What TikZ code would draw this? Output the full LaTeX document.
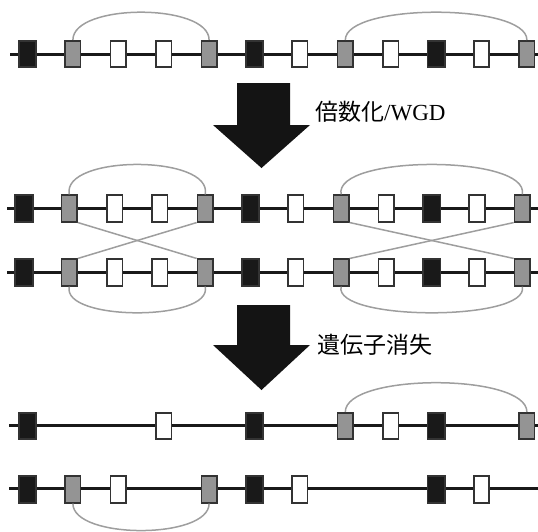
\documentclass[tikz,border=0pt]{standalone}
\usepackage{fontspec}
\newfontfamily\cjkfont{Noto Sans CJK JP}
\newfontfamily\latinfont{Liberation Serif}
\tikzset{
  chrom/.style={line width=3pt, draw=black!90},
  gene/.style={draw=black!80, line width=1.6pt, minimum width=15.5pt,
               minimum height=26.5pt, inner sep=0pt, fill=white},
  blk/.style={gene, fill=black!90, minimum width=17.5pt},
  gry/.style={gene, fill=black!42},
  wht/.style={gene, fill=white},
  link/.style={draw=black!38, line width=1.5pt},
  bigarrow/.style={fill=black!92},
  lbl/.style={anchor=west, inner sep=0pt, font=\cjkfont\fontsize{23}{23}\selectfont}
}
\begin{document}
\begin{tikzpicture}[x=1pt, y=-1pt]
\useasboundingbox (0,0) rectangle (538,531);

% chromosome backbones
\coordinate (a1) at (10,54);  \coordinate (b1) at (538,54);
\coordinate (a2) at (7,208);  \coordinate (b2) at (538,208);
\coordinate (a3) at (7,272);  \coordinate (b3) at (538,272);
\coordinate (a4) at (9,425);  \coordinate (b4) at (538,425);
\coordinate (a5) at (9,488);  \coordinate (b5) at (538,488);
\foreach \r in {1,...,5} \draw[chrom] (a\r) -- (b\r);

% ancestral chromosome
\foreach \t/\i in {blk/0,gry/1,wht/2,wht/3,gry/4,blk/5,wht/6,gry/7,wht/8,blk/9,wht/10,gry/11}
  \node[\t] (r1-\i) at ({27.5+45.4*\i},54) {};

% duplicated pair
\foreach \t/\i in {blk/0,gry/1,wht/2,wht/3,gry/4,blk/5,wht/6,gry/7,wht/8,blk/9,wht/10,gry/11} {
  \node[\t] (r2-\i) at ({24+45.3*\i},208.5) {};
  \node[\t] (r3-\i) at ({24+45.3*\i},272.5) {};
}

% after gene loss
\foreach \t/\i in {blk/0,wht/3,blk/5,gry/7,wht/8,blk/9,gry/11}
  \node[\t] (r4-\i) at ({27.5+45.4*\i},426) {};
\foreach \t/\i in {blk/0,gry/1,wht/2,gry/4,blk/5,wht/6,blk/9,wht/10}
  \node[\t] (r5-\i) at ({27.5+45.4*\i},489.5) {};

% links between paired genes
\draw[link] (r1-1.north) .. controls +(0,-37) and +(0,-37) .. (r1-4.north);
\draw[link] (r1-7.north) .. controls +(0,-37) and +(0,-37) .. (r1-11.north);

\draw[link] (r2-1.north) .. controls +(-8,-40) and +(8,-40) .. (r2-4.north);
\draw[link] (r2-7.north) .. controls +(-8,-40) and +(8,-40) .. (r2-11.north);
\draw[link] (r3-1.south) .. controls +(-8,35) and +(8,35) .. (r3-4.south);
\draw[link] (r3-7.south) .. controls +(-8,35) and +(8,35) .. (r3-11.south);
\draw[link] (r2-1.south east) -- (r3-4.north west);
\draw[link] (r2-4.south west) -- (r3-1.north east);
\draw[link] (r2-7.south east) -- (r3-11.north west);
\draw[link] (r2-11.south west) -- (r3-7.north east);

\draw[link] (r4-7.north) .. controls +(0,-39) and +(0,-39) .. (r4-11.north);
\draw[link] (r5-1.south) .. controls +(0,36) and +(0,36) .. (r5-4.south);

% process arrows
\fill[bigarrow] (237,83) -- (290,83) -- (290,125) -- (310,125) -- (261.5,168)
  -- (213,125) -- (237,125) -- cycle;
\fill[bigarrow] (237,305) -- (290,305) -- (290,345) -- (310,345) -- (261.5,390)
  -- (213,345) -- (237,345) -- cycle;
\node[lbl] (wgd) at (315,112) {倍数化{\latinfont /WGD}};
\node[lbl] (loss) at (317,345) {遺伝子消失};
\end{tikzpicture}
\end{document}
